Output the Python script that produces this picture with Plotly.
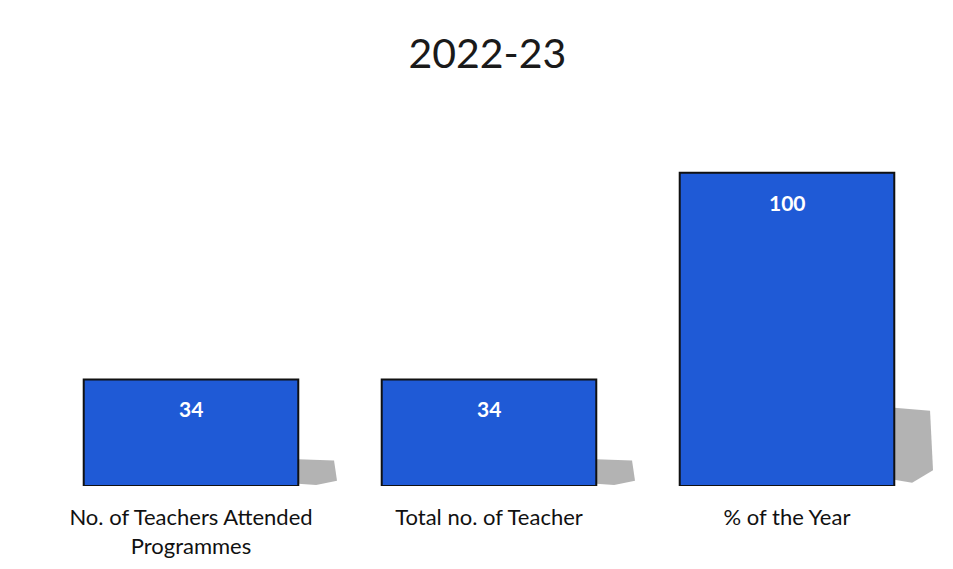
import plotly.graph_objects as go

categories = ["No. of Teachers Attended<br>Programmes", "Total no. of Teacher", "% of the Year"]
values = [34, 34, 100]
title_text = "2022-23"

FONT = "Lato, Open Sans, sans-serif"
BAR_HALF = 0.36

fig = go.Figure()
fig.add_trace(go.Bar(
    x=list(range(len(categories))), y=values,
    marker=dict(color="#1F5AD6", line=dict(color="#111111", width=2)),
    width=2 * BAR_HALF,
    hoverinfo="skip",
))

for i, v in enumerate(values):
    x0 = i + BAR_HALF
    path = (f"M {x0},{0.02*v} L {x0},{0.25*v} L {x0+0.12},{0.24*v} "
            f"L {x0+0.13},{0.05*v} L {x0+0.06},{0.01*v} Z")
    fig.add_shape(type="path", path=path, xref="x", yref="y",
                  fillcolor="#9a9a9a", opacity=0.75, line=dict(width=0), layer="below")
    fig.add_annotation(x=i, y=v, text=f"<b>{v}</b>", showarrow=False, yanchor="top", yshift=-15,
                       font=dict(family=FONT, size=21, color="white"))

fig.update_layout(
    width=953, height=569,
    paper_bgcolor="white", plot_bgcolor="white",
    margin=dict(l=34, r=25, t=102, b=91),
    showlegend=False,
    title=dict(text=title_text, x=0.503, xanchor="center", y=0.92, yanchor="middle",
               font=dict(family=FONT, size=41, color="#1a1a1a")),
    xaxis=dict(showline=False, showgrid=False, ticks="",
               tickmode="array", tickvals=list(range(len(categories))), ticktext=categories,
               range=[-0.5, len(categories) - 0.5],
               tickfont=dict(family=FONT, size=22, color="#111111"),
               ticklabelstandoff=16),
    yaxis=dict(range=[0, 120], visible=False),
)
fig.write_html("out.html")
